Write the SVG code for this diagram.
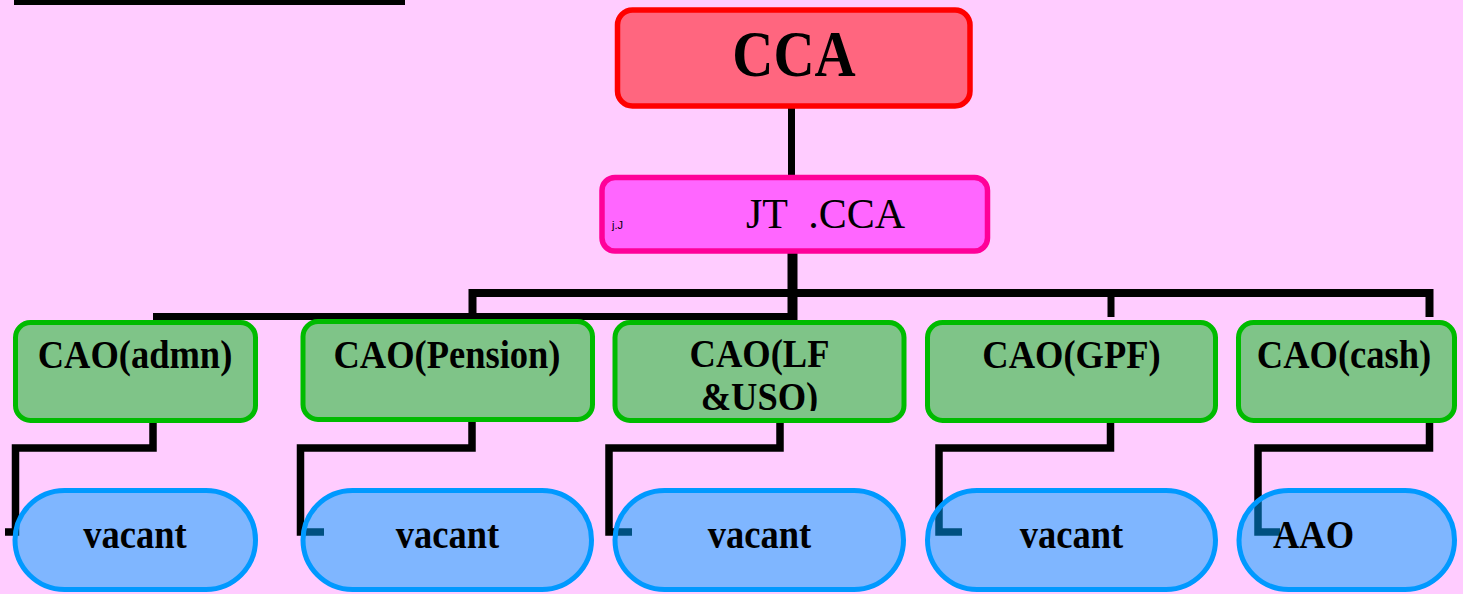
<svg xmlns="http://www.w3.org/2000/svg" width="1463" height="594" viewBox="0 0 1463 594">
<style>
.b{font-family:"Liberation Serif","Times New Roman",serif;font-weight:bold;fill:#000}
.r{font-family:"Liberation Serif","Times New Roman",serif;fill:#000}
.cao rect{fill:rgba(0,188,17,0.5);stroke:#00BB00;stroke-width:5}
.pill rect{fill:rgba(0,160,255,0.5);stroke:#0099FF;stroke-width:5}
.ln{fill:none;stroke:#000;stroke-linejoin:miter;stroke-linecap:butt}
</style>
<rect x="0" y="0" width="1463" height="594" fill="#FFCCFF"/>
<rect x="14" y="0" width="391" height="5" fill="#000"/>
<g id="connectors">
<line class="ln" x1="791.5" y1="106" x2="791.5" y2="178" stroke-width="7"/>
<line class="ln" x1="792.5" y1="251" x2="792.5" y2="320" stroke-width="10"/>
<polyline class="ln" points="472.5,316 472.5,293 1429.5,293 1429.5,317" stroke-width="8"/>
<line class="ln" x1="1111" y1="293" x2="1111" y2="317" stroke-width="7"/>
<line class="ln" x1="153" y1="316.5" x2="797" y2="316.5" stroke-width="7"/>
<polyline class="ln" points="153,421 153,448 15.5,448 15.5,532 5,532" stroke-width="7.5"/>
<polyline class="ln" points="472,422 472,448 300.5,448 300.5,532 324,532" stroke-width="7.5"/>
<polyline class="ln" points="780,422 780,448 609,448 609,532 632,532" stroke-width="7.5"/>
<polyline class="ln" points="1110.5,422 1110.5,448 939,448 939,532 962,532" stroke-width="7.5"/>
<polyline class="ln" points="1429.5,423 1429.5,448 1258,448 1258,532 1280,532" stroke-width="7.5"/>
</g>
<g id="cca">
<rect x="617.5" y="10" width="352.5" height="96" rx="15" fill="rgba(255,0,0,0.5)" stroke="#FF0000" stroke-width="5.5"/>
<text class="b" x="794" y="76" font-size="57" text-anchor="middle" transform="matrix(1 0 0 1.14 0 -10.64)">CCA</text>
</g>
<g id="jtcca">
<rect x="602" y="177.5" width="385.5" height="73.5" rx="13" fill="rgba(255,0,255,0.5)" stroke="#FF0099" stroke-width="5.5"/>
<text class="r" x="746" y="228" font-size="42" xml:space="preserve">JT  .CCA</text>
<text x="612" y="229" font-size="11" font-family="Liberation Sans, sans-serif" fill="#000">j.J</text>
</g>
<g id="cao-admn" class="cao">
<rect x="15.5" y="322.5" width="240" height="98" rx="15"/>
<text class="b" x="135" y="368" font-size="36.5" text-anchor="middle" transform="matrix(1 0 0 1.1 0 -36.8)">CAO(admn)</text>
</g>
<g id="cao-pension" class="cao">
<rect x="303" y="321.5" width="289.5" height="98" rx="15"/>
<text class="b" x="447" y="368" font-size="36.5" text-anchor="middle" transform="matrix(1 0 0 1.1 0 -36.8)">CAO(Pension)</text>
</g>
<defs><clipPath id="clip3"><rect x="600" y="320" width="320" height="91"/></clipPath></defs>
<g id="cao-lf" class="cao">
<rect x="615" y="322.5" width="289" height="98" rx="15"/>
<g clip-path="url(#clip3)">
<text class="b" x="759.5" y="367" font-size="36.5" text-anchor="middle" transform="matrix(1 0 0 1.1 0 -36.7)">CAO(LF</text>
<text class="b" x="759.5" y="410" font-size="36.5" text-anchor="middle" transform="matrix(1 0 0 1.1 0 -41)">&amp;USO)</text>
</g>
</g>
<g id="cao-gpf" class="cao">
<rect x="927.5" y="322.5" width="288" height="98" rx="15"/>
<text class="b" x="1071.5" y="368" font-size="36.5" text-anchor="middle" transform="matrix(1 0 0 1.1 0 -36.8)">CAO(GPF)</text>
</g>
<g id="cao-cash" class="cao">
<rect x="1238.5" y="322.5" width="216" height="98" rx="15"/>
<text class="b" x="1344" y="368" font-size="36.5" text-anchor="middle" transform="matrix(1 0 0 1.1 0 -36.8)">CAO(cash)</text>
</g>
<g id="vacant1" class="pill">
<rect x="15" y="490.5" width="240.5" height="99" rx="49.5"/>
<text class="b" x="135" y="548" font-size="36.5" text-anchor="middle" transform="matrix(1 0 0 1.1 0 -54.8)">vacant</text>
</g>
<g id="vacant2" class="pill">
<rect x="303" y="490.5" width="288.5" height="99" rx="49.5"/>
<text class="b" x="447.5" y="548" font-size="36.5" text-anchor="middle" transform="matrix(1 0 0 1.1 0 -54.8)">vacant</text>
</g>
<g id="vacant3" class="pill">
<rect x="615" y="490.5" width="288.5" height="99" rx="49.5"/>
<text class="b" x="759.5" y="548" font-size="36.5" text-anchor="middle" transform="matrix(1 0 0 1.1 0 -54.8)">vacant</text>
</g>
<g id="vacant4" class="pill">
<rect x="927.5" y="490.5" width="288" height="99" rx="49.5"/>
<text class="b" x="1071.5" y="548" font-size="36.5" text-anchor="middle" transform="matrix(1 0 0 1.1 0 -54.8)">vacant</text>
</g>
<g id="aao" class="pill">
<rect x="1239" y="490.5" width="215.5" height="99" rx="49.5"/>
<text class="b" x="1273" y="548" font-size="36.5" transform="matrix(1 0 0 1.1 0 -54.8)">AAO</text>
</g>
</svg>
